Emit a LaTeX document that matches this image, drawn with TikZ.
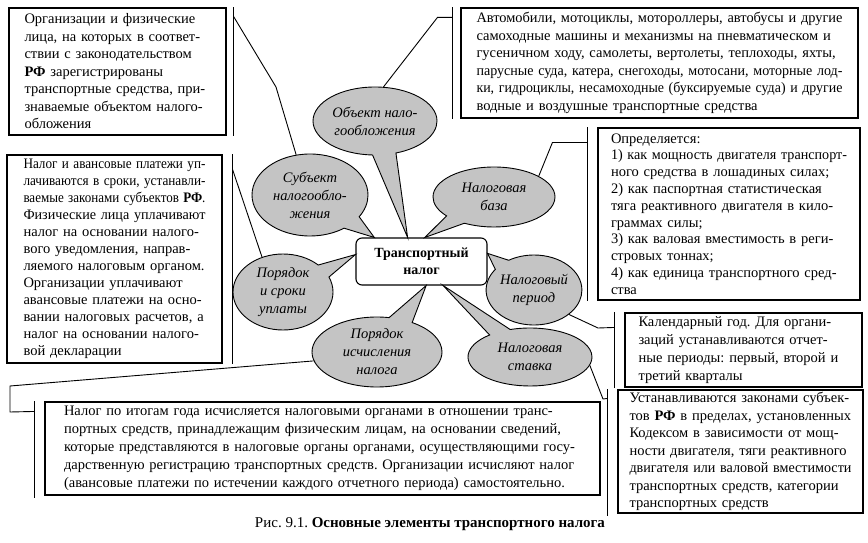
\documentclass[tikz,border=0pt]{standalone}
\usepackage{fontspec}
\setmainfont{Liberation Serif}
\usepackage{graphicx}
\usetikzlibrary{shapes.callouts,shapes.geometric}
\definecolor{ellgray}{RGB}{196,196,196}
\frenchspacing
\newsavebox\lnbox
\newcommand\jline[1]{\sbox\lnbox{#1}\ifdim\wd\lnbox>\hsize\resizebox{\hsize}{\height}{\usebox\lnbox}\else\makebox[\hsize][s]{#1}\fi\\}
\newcommand\jend[1]{\sbox\lnbox{#1}\ifdim\wd\lnbox>\hsize\resizebox{\hsize}{\height}{\usebox\lnbox}\else\makebox[\hsize][s]{#1}\fi}
\newcommand\pline[1]{\sbox\lnbox{#1}\ifdim\wd\lnbox>\hsize\resizebox{\hsize}{\height}{\usebox\lnbox}\else\usebox\lnbox\fi\\}
\newcommand\eline[1]{\sbox\lnbox{#1}\ifdim\wd\lnbox>\hsize\resizebox{\hsize}{\height}{\usebox\lnbox}\else\usebox\lnbox\fi}
\begin{document}
\begin{tikzpicture}[x=1pt,y=-1pt,
  tbox/.style={draw, line width=1.1pt, inner sep=0pt, align=left,
    font={\fontsize{14.5}{17.5}\selectfont\parindent=0pt\frenchspacing}},
  ell/.style={ellipse callout, draw, line width=0.9pt, fill=ellgray, inner sep=0pt,
    align=center, callout pointer arc=22,
    font={\itshape\fontsize{14.5}{18}\selectfont}},
  conn/.style={line width=0.9pt},
  brk/.style={line width=0.9pt}]
\useasboundingbox (0,0) rectangle (868,543);

% centre
\node[draw, rounded corners=6pt, line width=1.1pt, fill=white, minimum width=131pt,
  minimum height=47pt, align=center, inner sep=0pt,
  font={\bfseries\fontsize{14}{17}\selectfont}] (c) at (421.5,261.5) {Транспортный\\налог};

% ellipses
\node[ell, minimum width=124pt, minimum height=68pt, callout absolute pointer={(c.120)}] (obj) at (375,121) {Объект нало-\\гообложения};
\node[ell, minimum width=116pt, minimum height=82pt, callout absolute pointer={(c.153)}] (subj) at (310,195) {Субъект\\налогообло-\\жения};
\node[ell, minimum width=122pt, minimum height=60pt, callout absolute pointer={(c.82)}] (baza) at (494,197) {Налоговая\\база};
\node[ell, minimum width=100pt, minimum height=76pt, callout absolute pointer={(c.174)}] (por) at (283,292) {Порядок\\и сроки\\уплаты};
\node[ell, minimum width=92pt, minimum height=70pt, callout absolute pointer={(c.7)}] (period) at (534,290) {Налоговый\\период};
\node[ell, minimum width=130pt, minimum height=70pt, callout absolute pointer={(c.-79)}] (isch) at (377,352) {Порядок\\исчисления\\налога};
\node[ell, minimum width=124pt, minimum height=58pt, callout absolute pointer={(c.-48)}] (stavka) at (530,357) {Налоговая\\ставка};

% boxes
\node[tbox, minimum width=217pt, minimum height=127pt, text width=186pt] (b1) at (117.5,71.5) {%
\jline{Организации и физические}
\jline{лица, на которых в соответ-}
\jline{ствии с законодательством}
\pline{\textbf{РФ} зарегистрированы}
\jline{транспортные средства, при-}
\jline{знаваемые объектом налого-}
\eline{обложения}};

\node[tbox, minimum width=397pt, minimum height=110pt, text width=366pt] (b2) at (659.5,63) {%
\jline{Автомобили, мотоциклы, мотороллеры, автобусы и другие}
\pline{самоходные машины и механизмы на пневматическом и}
\pline{гусеничном ходу, самолеты, вертолеты, теплоходы, яхты,}
\jline{парусные суда, катера, снегоходы, мотосани, моторные лод-}
\jline{ки, гидроциклы, несамоходные (буксируемые суда) и другие}
\eline{водные и воздушные транспортные средства}};

\node[tbox, minimum width=215pt, minimum height=208pt, text width=182pt,
  font={\fontsize{14.5}{17}\selectfont\parindent=0pt\frenchspacing}] (b3) at (114.5,259) {%
\jline{Налог и авансовые платежи уп-}
\jline{лачиваются в сроки, устанавли-}
\jline{ваемые законами субъектов \textbf{РФ}.}
\jline{Физические лица уплачивают}
\jline{налог на основании налого-}
\jline{вого уведомления, направ-}
\jline{ляемого налоговым органом.}
\pline{Организации уплачивают}
\jline{авансовые платежи на осно-}
\jline{вании налоговых расчетов, а}
\jline{налог на основании налого-}
\eline{вой декларации}};

\node[tbox, minimum width=262pt, minimum height=172pt, text width=236pt,
  font={\fontsize{14.5}{16.8}\selectfont\parindent=0pt\frenchspacing}] (b4) at (729,214) {%
\pline{Определяется:}
\jline{1) как мощность двигателя транспорт-}
\pline{ного средства в лошадиных силах;}
\jline{2) как паспортная статистическая}
\jline{тяга реактивного двигателя в кило-}
\pline{граммах силы;}
\jline{3) как валовая вместимость в реги-}
\pline{стровых тоннах;}
\jline{4) как единица транспортного сред-}
\eline{ства}};

\node[tbox, minimum width=237pt, minimum height=74pt, text width=210pt,
  font={\fontsize{14.5}{17.8}\selectfont\parindent=0pt\frenchspacing}] (b5) at (743.5,350) {%
\jline{Календарный год. Для органи-}
\jline{заций устанавливаются отчет-}
\jline{ные периоды: первый, второй и}
\eline{третий кварталы}};

\node[tbox, minimum width=245pt, minimum height=123pt, text width=222pt] (b6) at (740.5,451.5) {%
\jline{Устанавливаются законами субъек-}
\jline{тов \textbf{РФ} в пределах, установленных}
\jline{Кодексом в зависимости от мощ-}
\jline{ности двигателя, тяги реактивного}
\jline{двигателя или валовой вместимости}
\jline{транспортных средств, категории}
\eline{транспортных средств}};

\node[tbox, minimum width=555pt, minimum height=93pt, text width=517pt,
  font={\fontsize{14.5}{18}\selectfont\parindent=0pt\frenchspacing}] (b7) at (322.5,448.5) {%
\jline{Налог по итогам года исчисляется налоговыми органами в отношении транс-}
\jline{портных средств, принадлежащим физическим лицам, на основании сведений,}
\jline{которые представляются в налоговые органы органами, осуществляющими госу-}
\jline{дарственную регистрацию транспортных средств. Организации исчисляют налог}
\jend{(авансовые платежи по истечении каждого отчетного периода) самостоятельно.}};

% brackets
\draw[brk] ([xshift=7pt]b1.north east) -- ([xshift=7pt]b1.south east);
\draw[brk] ([xshift=-8pt]b2.north west) -- ([xshift=-8pt]b2.south west);
\draw[brk] ([xshift=10pt]b3.north east) -- ([xshift=10pt]b3.south east);
\draw[brk] ([xshift=-10pt]b4.north west) -- ([xshift=-10pt]b4.south west);
\draw[brk] ([xshift=-10pt]b5.north west) -- ([xshift=-10pt]b5.south west);
\draw[brk] ([xshift=-10pt]b6.north west) -- ([xshift=-10pt,yshift=-2pt]b6.south west);
\draw[brk] ([xshift=-10pt]b7.north west) -- ([xshift=-10pt,yshift=-2pt]b7.south west);

% connectors
\draw[conn] ([xshift=7pt,yshift=-9pt]b1.north east) -- (276,87) -- (subj.109);
\draw[conn] ([xshift=-8pt,yshift=-10pt]b2.north west) -- ++(-15,0) -- (obj.76);
\draw[conn] ([xshift=10pt,yshift=-15pt]b3.north east) -- (por.121);
\draw[conn] ([xshift=-10pt,yshift=-15pt]b4.north west) -- ++(-35,0) -- (baza.25);
\draw[conn] (period.-35) -- (598,328) -- ([xshift=-10pt,yshift=-15pt]b5.north west);
\draw[conn] (stavka.-8) -- (603,399) -- ([xshift=-10pt,yshift=-9pt]b6.north west);
\draw[conn] ([xshift=-10pt,yshift=-10pt]b7.north west) -- (10,412) -- (10,386) -- (isch.188);

% caption
\node[font={\fontsize{15}{18}\selectfont}] (cap) at (430,524) {Рис. 9.1. \textbf{Основные элементы транспортного налога}};
\end{tikzpicture}
\end{document}
